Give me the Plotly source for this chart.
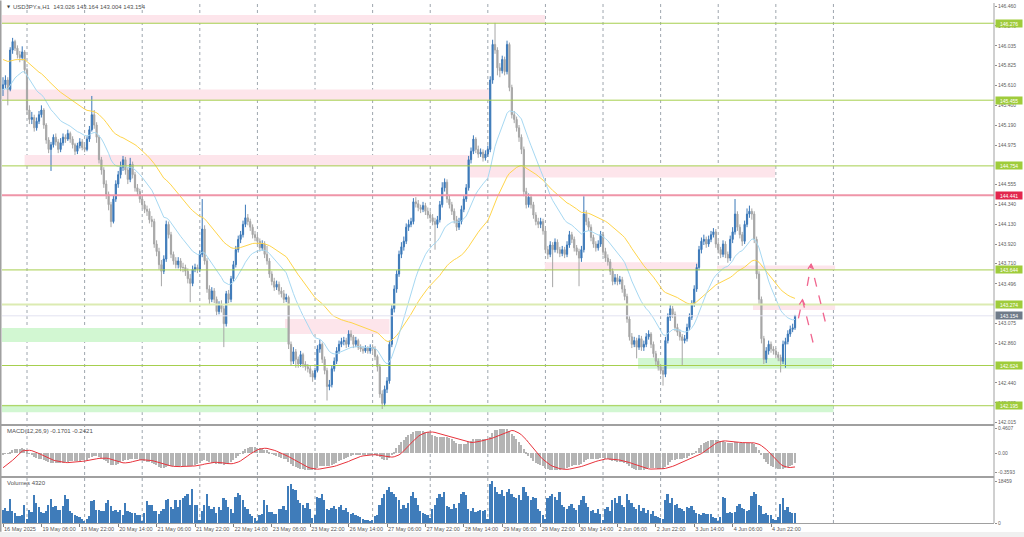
import plotly.graph_objects as go

# ---------------- data ----------------
first_open = 145.58
closes = [
    145.62, 145.67, 145.57, 145.99, 146.08, 146.01, 145.94, 145.91, 145.97, 145.78,
    145.35, 145.25, 145.27, 145.16, 145.23, 145.30, 145.35, 145.19, 145.03, 144.93,
    144.98, 145.06, 145.01, 144.93, 145.00, 145.06, 145.04, 145.10, 145.04, 144.98,
    144.91, 144.97, 145.01, 144.95, 144.93, 145.04, 145.14, 145.30, 145.19, 145.06,
    144.82, 144.71, 144.56, 144.45, 144.34, 144.16, 144.40, 144.56, 144.66, 144.74,
    144.82, 144.71, 144.61, 144.77, 144.66, 144.52, 144.48, 144.40, 144.34, 144.29,
    144.27, 144.18, 144.16, 143.92, 143.84, 143.70, 143.63, 143.76, 144.13, 144.02,
    143.81, 143.74, 143.70, 143.74, 143.67, 143.67, 143.63, 143.55, 143.50, 143.65,
    143.67, 143.65, 143.81, 144.08, 143.74, 143.44, 143.33, 143.42, 143.33, 143.20,
    143.28, 143.23, 143.07, 143.39, 143.33, 143.55, 143.70, 143.86, 143.97, 144.02,
    144.13, 144.20, 144.16, 144.10, 144.02, 143.99, 143.95, 143.88, 143.92, 143.81,
    143.74, 143.60, 143.52, 143.46, 143.49, 143.42, 143.39, 143.33, 143.35, 142.85,
    142.67, 142.77, 142.69, 142.64, 142.74, 142.64, 142.61, 142.59, 142.54, 142.50,
    142.57, 142.80, 142.85, 142.69, 142.57, 142.40, 142.42, 142.59, 142.67, 142.78,
    142.85, 142.88, 142.89, 142.85, 142.96, 142.93, 142.85, 142.89, 142.82, 142.80,
    142.78, 142.81, 142.78, 142.82, 142.80, 142.72, 142.61, 142.32, 142.22, 142.37,
    142.46, 142.85, 143.23, 143.44, 143.60, 143.81, 143.89, 143.95, 144.10, 144.13,
    144.16, 144.37, 144.35, 144.31, 144.29, 144.33, 144.27, 144.23, 144.20, 144.16,
    144.13, 144.18, 144.34, 144.52, 144.58, 144.40, 144.34, 144.27, 144.18, 144.10,
    144.16, 144.29, 144.40, 144.52, 144.82, 144.91, 145.04, 144.93, 144.88, 144.90,
    144.84, 144.88, 144.93, 145.67, 146.05, 145.99, 145.80, 145.77, 145.89, 145.76,
    146.05, 145.59, 145.30, 145.25, 145.16, 145.06, 144.93, 144.48, 144.34, 144.42,
    144.34, 144.23, 144.16, 144.13, 144.16, 144.06, 143.86, 143.81, 143.91, 143.86,
    143.94, 143.86, 143.82, 143.86, 143.81, 143.91, 144.02, 143.97, 143.88, 143.84,
    143.77, 143.86, 144.24, 144.16, 144.10, 143.99, 143.92, 143.88, 143.92, 144.02,
    143.84, 143.77, 143.73, 143.63, 143.52, 143.56, 143.52, 143.54, 143.44, 143.36,
    143.12, 142.93, 142.85, 142.89, 142.82, 142.91, 142.82, 142.85, 142.93, 142.96,
    142.85, 142.75, 142.67, 142.61, 142.57, 142.53, 142.89, 143.14, 143.23, 143.17,
    143.03, 142.98, 142.93, 142.89, 142.91, 143.03, 143.14, 143.28, 143.44, 143.67,
    143.86, 143.95, 143.97, 143.92, 143.97, 144.02, 144.05, 143.92, 143.86, 143.81,
    143.92, 143.81, 143.77, 143.97, 144.05, 144.24, 144.10, 144.02, 143.95, 144.13,
    144.24, 144.27, 144.24, 143.97, 143.60, 143.33, 142.91, 142.69, 142.78, 142.85,
    142.80, 142.78, 142.74, 142.71, 142.67, 142.85, 142.88, 142.96, 143.01, 143.026, 143.154,
]
highs = [
    145.70, 145.72, 145.70, 146.02, 146.12, 146.10, 146.04, 145.98, 146.03, 145.99,
    145.80, 145.40, 145.33, 145.30, 145.27, 145.34, 145.40, 145.37, 145.21, 145.06,
    145.01, 145.09, 145.10, 145.04, 145.05, 145.10, 145.09, 145.14, 145.12, 145.07,
    145.00, 145.00, 145.05, 145.04, 144.98, 145.07, 145.18, 145.50, 145.35, 145.22,
    145.08, 144.85, 144.74, 144.60, 144.48, 144.37, 144.44, 144.60, 144.70, 144.80,
    144.86, 144.85, 144.74, 144.84, 144.80, 144.69, 144.56, 144.51, 144.44, 144.38,
    144.33, 144.30, 144.22, 144.19, 143.96, 143.88, 143.75, 143.80, 144.17, 144.16,
    144.05, 143.84, 143.78, 143.78, 143.77, 143.72, 143.70, 143.66, 143.60, 143.69,
    143.71, 143.70, 143.85, 144.40, 144.12, 143.77, 143.48, 143.46, 143.45, 143.36,
    143.31, 143.32, 143.26, 143.42, 143.43, 143.58, 143.74, 143.90, 144.01, 144.06,
    144.17, 144.34, 144.24, 144.19, 144.13, 144.06, 144.03, 143.98, 143.96, 143.95,
    143.90, 143.77, 143.63, 143.56, 143.53, 143.52, 143.46, 143.43, 143.39, 143.37,
    142.88, 142.82, 142.80, 142.72, 142.78, 142.76, 142.67, 142.64, 142.62, 142.57,
    142.60, 142.84, 142.90, 142.87, 142.72, 142.60, 142.47, 142.62, 142.71, 142.82,
    142.89, 142.92, 142.93, 142.92, 143.00, 143.00, 142.95, 142.93, 142.91, 142.85,
    142.83, 142.84, 142.83, 142.85, 142.85, 142.83, 142.74, 142.64, 142.36, 142.41,
    142.50, 142.89, 143.27, 143.48, 143.64, 143.85, 143.94, 144.00, 144.14, 144.18,
    144.20, 144.41, 144.42, 144.39, 144.34, 144.37, 144.36, 144.31, 144.27, 144.24,
    144.20, 144.22, 144.38, 144.58, 144.62, 144.61, 144.44, 144.37, 144.30, 144.22,
    144.20, 144.33, 144.44, 144.56, 144.86, 144.95, 145.08, 145.06, 144.97, 144.94,
    144.93, 144.92, 144.97, 145.71, 146.10, 146.28, 146.02, 145.85, 145.93, 145.92,
    146.09, 146.07, 145.62, 145.34, 145.28, 145.19, 145.09, 144.96, 144.52, 144.46,
    144.45, 144.37, 144.26, 144.20, 144.20, 144.19, 144.09, 143.90, 143.95, 143.94,
    143.98, 143.97, 143.89, 143.90, 143.89, 143.95, 144.06, 144.05, 144.00, 143.91,
    143.87, 143.90, 144.43, 144.28, 144.20, 144.13, 144.02, 143.95, 143.96, 144.06,
    144.05, 143.88, 143.81, 143.76, 143.66, 143.60, 143.60, 143.58, 143.57, 143.48,
    143.39, 143.15, 142.97, 142.93, 142.92, 142.95, 142.94, 142.89, 142.97, 143.00,
    142.98, 142.88, 142.78, 142.70, 142.64, 142.61, 142.93, 143.18, 143.27, 143.26,
    143.20, 143.07, 143.01, 142.96, 142.95, 143.07, 143.18, 143.32, 143.48, 143.71,
    143.90, 143.99, 144.02, 144.00, 144.01, 144.06, 144.09, 144.08, 143.95, 143.89,
    143.96, 143.95, 143.84, 144.01, 144.10, 144.40, 144.27, 144.13, 144.05, 144.17,
    144.30, 144.33, 144.30, 144.27, 144.00, 143.63, 143.36, 142.94, 142.82, 142.89,
    142.88, 142.83, 142.81, 142.77, 142.74, 142.89, 142.92, 143.00, 143.05, 143.07, 143.164,
]
lows = [
    145.50, 145.58, 145.40, 145.55, 145.95, 145.98, 145.90, 145.86, 145.88, 145.74,
    145.30, 145.20, 145.20, 145.12, 145.13, 145.20, 145.27, 145.15, 144.99, 144.89,
    144.70, 144.95, 144.97, 144.89, 144.90, 144.97, 145.00, 145.02, 145.00, 144.94,
    144.87, 144.88, 144.94, 144.92, 144.90, 144.91, 145.01, 145.12, 145.15, 145.00,
    144.78, 144.66, 144.52, 144.40, 144.28, 144.10, 144.14, 144.37, 144.52, 144.62,
    144.70, 144.66, 144.56, 144.58, 144.62, 144.48, 144.44, 144.36, 144.30, 144.25,
    144.22, 144.14, 144.10, 143.88, 143.79, 143.65, 143.47, 143.60, 143.73, 143.98,
    143.77, 143.70, 143.66, 143.66, 143.63, 143.62, 143.58, 143.50, 143.30, 143.47,
    143.62, 143.61, 143.62, 143.78, 143.70, 143.40, 143.28, 143.30, 143.29, 143.16,
    143.17, 143.19, 142.82, 143.04, 143.29, 143.30, 143.52, 143.67, 143.83, 143.93,
    143.99, 144.10, 144.12, 144.06, 143.98, 143.95, 143.91, 143.84, 143.85, 143.77,
    143.70, 143.56, 143.48, 143.42, 143.43, 143.38, 143.35, 143.29, 143.30, 142.80,
    142.62, 142.64, 142.60, 142.60, 142.61, 142.60, 142.57, 142.55, 142.50, 142.45,
    142.47, 142.55, 142.76, 142.65, 142.53, 142.25, 142.36, 142.39, 142.56, 142.64,
    142.75, 142.82, 142.84, 142.81, 142.82, 142.89, 142.81, 142.82, 142.79, 142.77,
    142.75, 142.76, 142.75, 142.75, 142.77, 142.68, 142.56, 142.28, 142.16, 142.19,
    142.33, 142.43, 142.82, 143.19, 143.40, 143.57, 143.77, 143.85, 143.92, 144.06,
    144.10, 144.13, 144.31, 144.27, 144.25, 144.26, 144.23, 144.19, 144.16, 144.12,
    143.86, 144.09, 144.15, 144.31, 144.48, 144.36, 144.30, 144.23, 144.14, 144.06,
    144.07, 144.13, 144.26, 144.37, 144.49, 144.78, 144.88, 144.89, 144.84, 144.85,
    144.80, 144.81, 144.85, 144.90, 145.63, 145.95, 145.72, 145.70, 145.74, 145.72,
    145.73, 145.55, 145.26, 145.21, 145.12, 145.01, 144.88, 144.43, 144.30, 144.31,
    144.30, 144.19, 144.12, 144.09, 144.09, 144.02, 143.82, 143.76, 143.78, 143.46,
    143.83, 143.82, 143.78, 143.79, 143.77, 143.78, 143.88, 143.93, 143.84, 143.80,
    143.47, 143.73, 143.83, 144.12, 144.06, 143.95, 143.88, 143.84, 143.85, 143.89,
    143.80, 143.73, 143.69, 143.59, 143.48, 143.49, 143.48, 143.49, 143.40, 143.32,
    143.08, 142.89, 142.81, 142.82, 142.70, 142.79, 142.78, 142.78, 142.82, 142.90,
    142.81, 142.71, 142.63, 142.57, 142.53, 142.41, 142.50, 142.86, 143.10, 143.13,
    142.99, 142.94, 142.89, 142.62, 142.86, 142.88, 143.00, 143.11, 143.25, 143.41,
    143.64, 143.82, 143.91, 143.88, 143.89, 143.94, 143.99, 143.88, 143.82, 143.77,
    143.78, 143.77, 143.72, 143.74, 143.93, 144.02, 144.06, 143.98, 143.90, 143.92,
    144.10, 144.20, 144.18, 143.93, 143.55, 143.28, 142.86, 142.64, 142.65, 142.74,
    142.76, 142.74, 142.70, 142.67, 142.55, 142.64, 142.60, 142.85, 142.93, 142.98, 143.004,
]
volumes = [
    5920, 6830, 5460, 10470, 5460, 4550, 3190, 3190, 3640, 8190,
    1820, 5920, 5010, 12290, 9100, 7280, 5010, 4550, 5460, 8190,
    10470, 7280, 7740, 5920, 5920, 7740, 12290, 10470, 5460, 4550,
    3640, 3190, 2730, 1820, 910, 1820, 3190, 9560, 10010, 5920,
    5920, 5460, 5460, 9100, 10010, 7740, 5460, 5920, 5010, 5920,
    3640, 9100, 5460, 5010, 4550, 4550, 3640, 3640, 910, 4550,
    9560, 8190, 8190, 5460, 5460, 4100, 5460, 6370, 10010, 10470,
    7280, 6370, 10010, 7280, 10010, 10920, 11830, 12740, 8190, 15020,
    8190, 8190, 1370, 5460, 8190, 12740, 7740, 6370, 7280, 4550,
    7280, 5920, 10920, 10010, 7280, 6370, 4550, 11380, 13200, 12290,
    10010, 7280, 6370, 4100, 3190, 2280, 910, 3640, 4100, 10010,
    8190, 5010, 5010, 4100, 4100, 6370, 6370, 7740, 5920, 16380,
    17290, 15020, 14560, 10010, 9100, 8190, 6830, 9100, 6370, 2280,
    3640, 11380, 10920, 12740, 10010, 6370, 5920, 6830, 7740, 6370,
    7280, 8190, 5920, 6830, 5010, 4100, 4550, 3640, 3190, 2730,
    1820, 1370, 1370, 910, 1370, 3190, 3640, 8190, 10920, 12740,
    14560, 15930, 13650, 12740, 11380, 10010, 6370, 8190, 6830, 9100,
    11830, 13650, 10920, 8190, 5460, 4550, 4100, 3640, 2280, 6370,
    8190, 10920, 12740, 11380, 13650, 7740, 7280, 6370, 8650, 6830,
    9100, 12740, 13650, 12290, 6370, 5460, 6830, 5010, 5460, 5920,
    5460, 5920, 1820, 17290, 18459, 15930, 13650, 12740, 14560, 11830,
    13650, 15020, 12740, 11380, 10920, 12290, 10010, 15930, 13650, 11830,
    10010, 11380, 10920, 6370, 5460, 3640, 1820, 10920, 11830, 12740,
    11380, 10010, 13650, 8190, 7280, 6370, 7740, 8650, 6830, 5920,
    8190, 10010, 11830, 9100, 7280, 5460, 5920, 4550, 6370, 4100,
    1370, 6370, 7280, 5460, 10010, 10920, 9100, 11830, 8190, 7280,
    12740, 10010, 9100, 7280, 6370, 8190, 5460, 6830, 4550, 5920,
    4100, 5460, 3190, 2730, 2280, 1820, 10010, 12740, 9100, 10920,
    8190, 8650, 6830, 6370, 5460, 7280, 6830, 7740, 5920, 4550,
    4100, 3640, 4550, 4100, 4100, 4100, 2730, 2280, 910, 2730,
    11380, 10920, 4550, 5010, 4550, 5010, 7740, 8650, 6830, 6370,
    5460, 5920, 11830, 13650, 12740, 8190, 7740, 4100, 4550, 3640,
    3640, 1820, 1370, 2730, 8650, 10920, 5920, 7280, 5010, 4550, 4320,
]
x_tick_labels = [
    "16 May 2025", "19 May 06:00", "19 May 22:00", "20 May 14:00", "21 May 06:00",
    "21 May 22:00", "22 May 14:00", "23 May 06:00", "23 May 22:00", "26 May 14:00",
    "27 May 06:00", "27 May 22:00", "28 May 14:00", "29 May 06:00", "29 May 22:00",
    "30 May 14:00", "2 Jun 06:00", "2 Jun 22:00", "3 Jun 14:00", "4 Jun 06:00",
    "4 Jun 22:00",
]
# price-scale labels that are visible in the reference (others sit under level boxes)
price_ticks = [146.460, 146.249, 146.035, 145.825, 145.610, 145.400, 145.190, 144.975,
               144.555, 144.340, 144.130, 143.920, 143.710, 143.496,
               143.075, 142.860, 142.440, 142.225, 142.015]
green_levels = [146.276, 145.455, 144.754, 143.644, 142.624, 142.195]
red_level = 144.441
pale_level = 143.274
last_price = 143.154
macd_ticks = [0.4607, 0.0, -0.3593]
macd_tick_text = ["0.4607", "0.00", "-0.3593"]
vol_ticks = [0, 18459]
ma_fast_start, ma_slow_start = 145.56, 145.90
ema12_start, ema26_start, macd_prehistory = 145.60, 145.62, -0.30

# ---------------- derived ----------------
n = len(closes)
xs = list(range(n))
opens = [first_open] + closes[:-1]


def ema(values, period, start):
    a = 2.0 / (period + 1)
    out, e = [], start
    for v in values:
        e = e + a * (v - e)
        out.append(e)
    return out


ma_fast = ema(closes, 20, ma_fast_start)
ma_slow = ema(closes, 50, ma_slow_start)
e12 = ema(closes, 12, ema12_start)
e26 = ema(closes, 26, ema26_start)
macd = [a - b for a, b in zip(e12, e26)]
padded = [macd_prehistory] * 8 + macd
signal = [sum(padded[i:i + 9]) / 9 for i in range(n)]

X0 = -0.42
X1 = 412.9

fig = go.Figure()

# zones (bar index, price)
pink = "#fde5eb"
green = "#d2f7d2"
zones = [
    (X0, 225.8, 146.276, 146.365, pink),
    (X0, 203.0, 145.455, 145.570, pink),
    (9.0, 194.6, 144.754, 144.870, pink),
    (194.6, 321.7, 144.630, 144.754, pink),
    (225.8, 289.6, 143.644, 143.726, pink),
    (297.5, 346.7, 143.644, 143.690, pink),
    (117.5, 161.0, 142.960, 143.120, pink),
    (312.5, 346.7, 143.215, 143.274, pink),
    (X0, 118.8, 142.875, 143.024, green),
    (264.6, 345.4, 142.590, 142.705, green),
    (X0, 346.0, 142.125, 142.205, green),
]
shapes = []
for x0, x1, y0, y1, c in zones:
    shapes.append(dict(type="rect", xref="x", yref="y", x0=x0, x1=x1, y0=y0, y1=y1,
                       fillcolor=c, line=dict(width=0), layer="below"))

# vertical dotted day separators
for k in range(15):
    xv = 10 + 24 * k
    shapes.append(dict(type="line", xref="x", yref="paper", x0=xv, x1=xv, y0=0, y1=1,
                       line=dict(color="#9ea6ae", width=1, dash="dot"), layer="below"))

# horizontal levels
for lv in green_levels:
    shapes.append(dict(type="line", xref="paper", yref="y", x0=0, x1=1, y0=lv, y1=lv,
                       line=dict(color="#a6cf4e", width=1)))
shapes.append(dict(type="line", xref="paper", yref="y", x0=0, x1=1, y0=red_level, y1=red_level,
                   line=dict(color="#ef95a8", width=2)))
shapes.append(dict(type="line", xref="paper", yref="y", x0=0, x1=1, y0=pale_level, y1=pale_level,
                   line=dict(color="#dcebb2", width=2)))
shapes.append(dict(type="line", xref="paper", yref="y", x0=0, x1=1, y0=last_price, y1=last_price,
                   line=dict(color="#e2e2f0", width=1)))

# arrows drawn on the chart (pink dashed zig-zags)
arrow_col = "#f0668f"
arrows = [
    [(331.4, 143.127), (333.1, 143.325), (338.0, 142.818)],
    [(335.1, 143.474), (336.7, 143.705), (343.2, 143.030)],
]
for pts in arrows:
    path = "M {},{} L {},{} L {},{}".format(pts[0][0], pts[0][1], pts[1][0], pts[1][1],
                                             pts[2][0], pts[2][1])
    shapes.append(dict(type="path", xref="x", yref="y", path=path,
                       line=dict(color=arrow_col, width=1.3, dash="dash")))
    tx, ty = pts[1]
    head = "M {},{} L {},{} L {},{}".format(tx - 1.3, ty - 0.05, tx, ty, tx + 1.0, ty - 0.055)
    shapes.append(dict(type="path", xref="x", yref="y", path=head,
                       line=dict(color=arrow_col, width=1.3)))

# panel borders
frame = "#a0a0a0"
main_bot, macd_top, macd_bot, vol_top = 0.1904, 0.1865, 0.0904, 0.0865
for yy in [(main_bot + macd_top) / 2, (macd_bot + vol_top) / 2]:
    shapes.append(dict(type="line", xref="paper", yref="paper", x0=-0.002, x1=1, y0=yy, y1=yy,
                       line=dict(color=frame, width=2)))
shapes.append(dict(type="line", xref="paper", yref="paper", x0=1, x1=1, y0=0, y1=1,
                   line=dict(color=frame, width=1)))
shapes.append(dict(type="line", xref="paper", yref="paper", x0=-0.0015, x1=-0.0015, y0=-0.017, y1=1.005,
                   line=dict(color=frame, width=2)))
shapes.append(dict(type="rect", xref="paper", yref="paper", x0=-0.01, x1=1.04, y0=-0.0275, y1=-0.0175,
                   fillcolor="#f0f0f0", line=dict(width=0)))

# ---------------- traces ----------------
fig.add_trace(go.Candlestick(
    x=xs, open=opens, high=highs, low=lows, close=closes,
    increasing=dict(line=dict(color="#3b78b8", width=1), fillcolor="#3b78b8"),
    decreasing=dict(line=dict(color="#a6a6a6", width=1), fillcolor="#a6a6a6"),
    whiskerwidth=0, hoverinfo="skip", showlegend=False, xaxis="x", yaxis="y"))
fig.add_trace(go.Scatter(x=xs, y=ma_slow, mode="lines", line=dict(color="#ffd54a", width=1),
                         hoverinfo="skip", showlegend=False, xaxis="x", yaxis="y"))
fig.add_trace(go.Scatter(x=xs, y=ma_fast, mode="lines", line=dict(color="#a6d8f2", width=1),
                         hoverinfo="skip", showlegend=False, xaxis="x", yaxis="y"))
fig.add_trace(go.Bar(x=xs, y=macd, width=0.55, marker=dict(color="#b4b4b4", line=dict(width=0)),
                     hoverinfo="skip", showlegend=False, xaxis="x", yaxis="y2"))
fig.add_trace(go.Scatter(x=xs, y=signal, mode="lines", line=dict(color="#e8333c", width=1),
                         hoverinfo="skip", showlegend=False, xaxis="x", yaxis="y2"))
fig.add_trace(go.Bar(x=xs, y=volumes, width=0.7, marker=dict(color="#3f7cba", line=dict(width=0)),
                     hoverinfo="skip", showlegend=False, xaxis="x", yaxis="y3"))

# ---------------- annotations ----------------
font_small = dict(family="Liberation Sans", size=5, color="#606060")
ann = []
box_specs = [(lv, "#9fcc3b") for lv in green_levels] + [(red_level, "#e2264d"),
                                                       (pale_level, "#9fcc3b"),
                                                       (last_price, "#6f7b89")]
for val, col in box_specs:
    ann.append(dict(xref="paper", yref="y", x=1, y=val, xanchor="left", yanchor="middle",
                    xshift=1, text="{:.3f}".format(val), showarrow=False,
                    font=dict(family="Liberation Sans", size=5, color="white"),
                    bgcolor=col, borderpad=0.6, width=25, height=6, align="center"))
ann.append(dict(xref="paper", yref="paper", x=0.003, y=0.9925, xanchor="left", yanchor="middle",
                text="▼", showarrow=False, font=dict(family="DejaVu Sans", size=4, color="#404040")))
ann.append(dict(xref="paper", yref="paper", x=0.0095, y=0.9925, xanchor="left", yanchor="middle",
                text="USDJPY.s,H1  143.026 143.164 143.004 143.154", showarrow=False,
                font=dict(family="Liberation Sans", size=6, color="#505050")))
ann.append(dict(xref="paper", yref="paper", x=0.003, y=0.177, xanchor="left", yanchor="middle",
                text="MACD(12,26,9) -0.1701 -0.2421", showarrow=False,
                font=dict(family="Liberation Sans", size=6, color="#505050")))
ann.append(dict(xref="paper", yref="paper", x=0.003, y=0.077, xanchor="left", yanchor="middle",
                text="Volumes 4320", showarrow=False,
                font=dict(family="Liberation Sans", size=6, color="#505050")))

fig.update_layout(
    width=1024, height=537, autosize=False,
    margin=dict(l=2, r=30, t=3, b=14, pad=0, autoexpand=False),
    paper_bgcolor="white", plot_bgcolor="white",
    barmode="overlay", bargap=0, boxgap=0.3,
    shapes=shapes, annotations=ann, showlegend=False,
    xaxis=dict(domain=[0, 1], range=[X0, X1], anchor="y3", showgrid=False, zeroline=False,
               rangeslider=dict(visible=False), tickmode="array", automargin=False,
               tickvals=list(range(0, 16 * len(x_tick_labels), 16)), ticktext=x_tick_labels,
               tickangle=0, ticks="outside", ticklen=3, tickcolor="#808080",
               tickfont=dict(family="Liberation Sans", size=5.5, color="#555555"),
               ticklabelposition="outside right", showline=True, linecolor=frame, linewidth=1),
    yaxis=dict(domain=[main_bot, 1], range=[142.0, 146.492], side="right", anchor="x",
               tickmode="array", tickvals=price_ticks, ticktext=["{:.3f}".format(v) for v in price_ticks],
               ticks="outside", ticklen=2, tickcolor="#909090", tickfont=font_small,
               showgrid=False, zeroline=False, automargin=False),
    yaxis2=dict(domain=[macd_bot, macd_top], range=[-0.42, 0.50], side="right", anchor="x",
                tickmode="array", tickvals=macd_ticks, ticktext=macd_tick_text,
                ticks="outside", ticklen=2, tickcolor="#909090", tickfont=font_small,
                showgrid=False, zeroline=False, automargin=False),
    yaxis3=dict(domain=[0, vol_top], range=[0, 20000], side="right", anchor="x",
                tickmode="array", tickvals=vol_ticks, ticktext=[str(v) for v in vol_ticks],
                ticks="outside", ticklen=2, tickcolor="#909090", tickfont=font_small,
                showgrid=False, zeroline=False, automargin=False),
)

fig.write_html("out.html", config={"displayModeBar": False},
               post_script="document.body.style.margin='0';document.body.style.overflow='hidden';")
